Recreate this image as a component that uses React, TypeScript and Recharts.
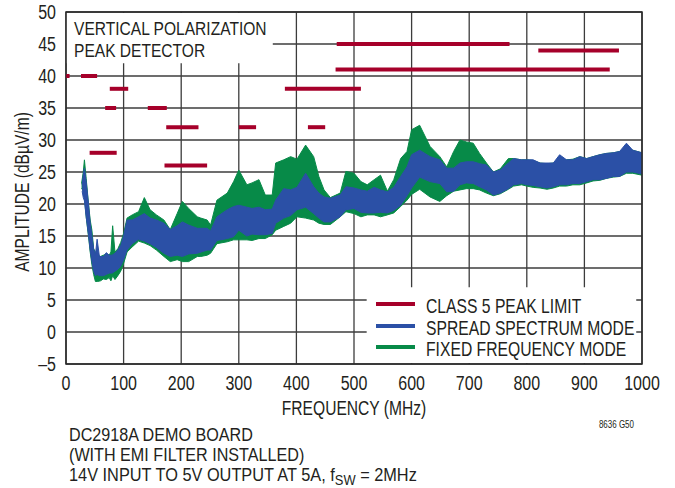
import React from "react";
import { ComposedChart, Area, Line, XAxis, YAxis, CartesianGrid, ReferenceArea } from "recharts";

// ---- data ----
const freqTicks = [0, 100, 200, 300, 400, 500, 600, 700, 800, 900, 1000];
const ampTicks = [-5, 0, 5, 10, 15, 20, 25, 30, 35, 40, 45, 50];

// CLASS 5 PEAK LIMIT segments (MHz start, MHz end, dBµV/m)
const limitStart = [0.5, 26, 41, 68, 76, 142, 171, 174, 300, 380, 420, 468, 470, 820];
const limitEnd = [6.2, 54, 88, 87, 108, 175, 245, 230, 330, 512, 450, 944, 770, 960];
const limitLevel = [40, 40, 28, 35, 38, 35, 26, 32, 32, 38, 32, 41, 45, 44];

// FIXED FREQUENCY MODE envelope
const fixedFreq = [27, 30, 32, 35, 39, 42, 45, 48, 51, 55, 60, 65, 70, 75, 78, 81, 85, 90, 95, 100, 106, 115, 126, 136, 146, 157, 170, 181, 193, 202, 213, 228, 234, 245, 251, 262, 280, 291, 300, 314, 323, 335, 346, 358, 364, 378, 390, 401, 416, 430, 439, 448, 459, 476, 486, 500, 512, 523, 535, 546, 558, 569, 581, 592, 600, 614, 632, 649, 661, 673, 684, 695, 707, 718, 730, 742, 754, 768, 777, 791, 800, 811, 823, 835, 846, 857, 869, 880, 892, 904, 915, 927, 938, 950, 961, 973, 984, 1000];
const fixedLow = [22.5, 22, 21, 18, 15, 12.5, 10.5, 9, 7.9, 7.9, 8, 8.3, 8.2, 8.5, 8, 8.8, 8.2, 8.8, 9.5, 10.7, 12.5, 13.3, 14.2, 13.9, 13.5, 12.8, 11.8, 11.0, 11.3, 11.0, 11.0, 11.8, 11.8, 12.0, 12.3, 13.8, 14.1, 14.4, 14.4, 14.4, 14.3, 14.6, 14.6, 15.2, 15.9, 16.5, 17.0, 18.0, 17.8, 17.5, 17.0, 16.8, 16.8, 18.0, 18.8, 18.5, 18.0, 18.3, 18.3, 18.0, 18.3, 18.6, 19.6, 20.6, 21.5, 22.3, 21.1, 20.4, 21.3, 22.0, 22.2, 22.4, 22.4, 22.2, 21.7, 21.3, 21.6, 22.3, 22.8, 23.0, 22.8, 22.6, 22.5, 22.3, 22.5, 22.8, 22.8, 23.0, 23.0, 23.3, 23.6, 23.7, 24.0, 24.2, 24.3, 24.8, 24.8, 24.5];
const fixedHigh = [23.2, 25, 26.9, 24, 20.1, 17.5, 15.9, 13, 12.5, 12, 11.8, 12, 12.2, 12, 12.5, 16.6, 12.5, 13, 14, 15.4, 17.8, 18.3, 18.8, 21.0, 19.1, 18.3, 17.5, 16.0, 18.5, 20.4, 19.3, 18.0, 17.8, 17.5, 16.7, 20.6, 21.7, 23.5, 25.3, 23.0, 23.3, 23.8, 21.4, 21.4, 26.4, 26.9, 27.4, 27.0, 29.2, 27.4, 24.3, 22.2, 21.0, 21.7, 25.1, 24.8, 23.5, 23.0, 23.8, 24.5, 22.0, 23.8, 27.1, 28.2, 31.6, 32.3, 29.0, 27.4, 25.8, 28.2, 30.0, 29.7, 29.5, 27.9, 26.4, 25.0, 25.5, 27.1, 27.1, 26.9, 26.9, 26.8, 26.4, 26.3, 26.4, 26.9, 26.9, 27.0, 27.4, 27.1, 27.4, 27.7, 27.9, 28.0, 28.2, 28.8, 28.4, 28.0];

// SPREAD SPECTRUM MODE envelope
const spreadFreq = [28, 30, 32, 35, 39, 42, 45, 48, 51, 54, 58, 65, 70, 75, 80, 85, 90, 95, 100, 106, 115, 126, 136, 146, 157, 170, 181, 193, 202, 213, 228, 245, 251, 262, 280, 291, 300, 314, 323, 335, 346, 358, 364, 378, 390, 401, 416, 430, 439, 448, 459, 476, 486, 500, 512, 523, 535, 546, 558, 569, 581, 592, 600, 614, 632, 649, 661, 673, 684, 695, 707, 718, 730, 742, 754, 768, 777, 791, 800, 811, 823, 835, 846, 857, 869, 880, 892, 904, 915, 927, 938, 950, 961, 973, 984, 1000];
const spreadLow = [22, 21, 20.5, 18, 15.2, 12.8, 11, 9.5, 8.8, 9, 8.8, 8.8, 9, 9.2, 9.2, 9.5, 9.8, 10.3, 11.3, 12.8, 13.8, 14.5, 14.2, 13.8, 13.2, 12.3, 11.8, 12, 11.8, 12.2, 12.3, 12.8, 12.8, 14.3, 14.6, 14.9, 15.9, 15, 15.3, 15.2, 15.2, 15.4, 17.0, 17.8, 18.2, 19.1, 19.5, 18.5, 17.8, 17.2, 17.2, 18.0, 19.1, 19.3, 18.7, 18.6, 18.6, 18.7, 18.6, 19, 19.8, 21.3, 22.5, 24.2, 23.5, 23.2, 21.9, 22, 23, 23.3, 23.2, 22.7, 22.2, 21.4, 21.7, 22.4, 23.0, 23.2, 23.0, 22.9, 22.7, 22.5, 22.7, 23.0, 23.0, 23.2, 23.2, 23.5, 23.8, 23.8, 24.0, 24.3, 24.3, 25.0, 25.0, 24.7];
const spreadHigh = [23, 24.5, 25.6, 23.5, 20, 17, 15, 13, 12, 14.5, 11.8, 11.8, 12.4, 12, 12, 12.3, 12.8, 13.5, 15, 17.5, 17.5, 18, 18.5, 17.8, 17.5, 17, 16, 16.6, 17.2, 16.7, 16.2, 16.2, 15.8, 18, 19.1, 19.6, 19.8, 19.5, 19.3, 19.5, 19.1, 19.2, 20.6, 22.4, 22.2, 22.6, 24.8, 22.7, 21.7, 21.1, 20.9, 21.4, 22.7, 22.5, 22.2, 22, 22.6, 22.2, 21.9, 22.6, 24.3, 25.8, 27.7, 28.4, 27.4, 26.9, 25.6, 25.6, 26.4, 26.6, 26.6, 26.3, 26.1, 25.0, 25.3, 26.4, 27.1, 26.9, 26.9, 26.9, 26.4, 26.4, 26.4, 27.7, 26.9, 26.9, 27.4, 27.1, 27.4, 27.7, 27.9, 28.0, 28.2, 29.5, 28.4, 28.0];

// ---- styles ----
const RED = "#A6002A";
const BLUE = "#2B50A6";
const GREEN = "#078A48";
const INK = "#231F20";
const FONT = "'Liberation Sans', Arial, sans-serif";

const fixedData = fixedFreq.map((f, i) => ({ f, r: [fixedLow[i], fixedHigh[i]] }));
const spreadData = spreadFreq.map((f, i) => ({ f, r: [spreadLow[i], spreadHigh[i]] }));
const limitData = limitStart.map((s, i) => [
  { f: s, v: limitLevel[i] },
  { f: limitEnd[i], v: limitLevel[i] },
]);

const XTick = (props: any) => {
  const { x, payload } = props;
  return (
    <text transform={`translate(${x},390) scale(0.8,1)`} textAnchor="middle" fontSize={20} fill={INK} fontFamily={FONT}>
      {payload.value}
    </text>
  );
};

const YTick = (props: any) => {
  const { y, payload } = props;
  const v = payload.value < 0 ? "\u2013" + Math.abs(payload.value) : String(payload.value);
  return (
    <text transform={`translate(56,${y + 7}) scale(0.8,1)`} textAnchor="end" fontSize={20} fill={INK} fontFamily={FONT}>
      {v}
    </text>
  );
};

const T = ({ x, y, s = 20, sx = 0.8, anchor = "start", children }: any) => (
  <text transform={`translate(${x},${y}) scale(${sx},1)`} textAnchor={anchor} fontSize={s} fill={INK} fontFamily={FONT}>
    {children}
  </text>
);

export default function App() {
  return (
    <div style={{ position: "absolute", left: 0, top: 0, width: 675, height: 488, background: "#fff" }}>
      <ComposedChart width={675} height={488} margin={{ top: 12, right: 33, bottom: 94, left: 26 }}>
        <CartesianGrid stroke="#3c3c3c" strokeWidth={1.3} horizontal vertical />
        <XAxis
          dataKey="f"
          type="number"
          domain={[0, 1000]}
          ticks={freqTicks}
          allowDataOverflow
          axisLine={false}
          tickLine={false}
          height={30}
          tick={<XTick />}
          interval={0}
        />
        <YAxis
          type="number"
          domain={[-5, 50]}
          ticks={ampTicks}
          allowDataOverflow
          axisLine={false}
          tickLine={false}
          width={40}
          tick={<YTick />}
          interval={0}
        />
        <ReferenceArea x1={0.6} x2={359} y1={42} y2={49.85} fill="#fff" fillOpacity={1} stroke="none" />
        <ReferenceArea x1={522} x2={990} y1={-4.85} y2={7} fill="#fff" fillOpacity={1} stroke="none" />
        <Area data={fixedData} dataKey="r" type="linear" stroke={GREEN} strokeWidth={1} fill={GREEN} fillOpacity={1} isAnimationActive={false} dot={false} activeDot={false} />
        <Area data={spreadData} dataKey="r" type="linear" stroke={BLUE} strokeWidth={1} fill={BLUE} fillOpacity={1} isAnimationActive={false} dot={false} activeDot={false} />
        {limitData.map((d, i) => (
          <Line key={i} data={d} dataKey="v" type="linear" stroke={RED} strokeWidth={4} dot={false} activeDot={false} isAnimationActive={false} />
        ))}
        <ReferenceArea x1={0} x2={1000} y1={-5} y2={50} fill="none" stroke="#2a2a2a" strokeWidth={1.5} />
      </ComposedChart>
      <svg width={675} height={488} style={{ position: "absolute", left: 0, top: 0, pointerEvents: "none" }}>
        <T x={74} y={35} s={19} sx={0.82}>VERTICAL POLARIZATION</T>
        <T x={74} y={57} s={19} sx={0.82}>PEAK DETECTOR</T>
        <line x1={376} x2={415} y1={304} y2={304} stroke={RED} strokeWidth={4} />
        <line x1={376} x2={415} y1={326} y2={326} stroke={BLUE} strokeWidth={4} />
        <line x1={376} x2={415} y1={347} y2={347} stroke={GREEN} strokeWidth={4} />
        <T x={426} y={313} sx={0.785}>CLASS 5 PEAK LIMIT</T>
        <T x={426} y={335} sx={0.785}>SPREAD SPECTRUM MODE</T>
        <T x={426} y={356} sx={0.785}>FIXED FREQUENCY MODE</T>
        <T x={354} y={415} anchor="middle" sx={0.78}>FREQUENCY (MHz)</T>
        <text transform="translate(29,192) rotate(-90) scale(0.78,1)" textAnchor="middle" fontSize={20} fill={INK} fontFamily={FONT}>
          AMPLITUDE (dBµV/m)
        </text>
        <T x={634} y={428} s={10} anchor="end">8636 G50</T>
        <T x={69} y={441} s={19} sx={0.85}>DC2918A DEMO BOARD</T>
        <T x={69} y={461} s={19} sx={0.85}>(WITH EMI FILTER INSTALLED)</T>
        <T x={69} y={481} s={19} sx={0.86}>
          14V INPUT TO 5V OUTPUT AT 5A, f<tspan fontSize={15} dy={4}>SW</tspan><tspan dy={-4}> = 2MHz</tspan>
        </T>
      </svg>
    </div>
  );
}
